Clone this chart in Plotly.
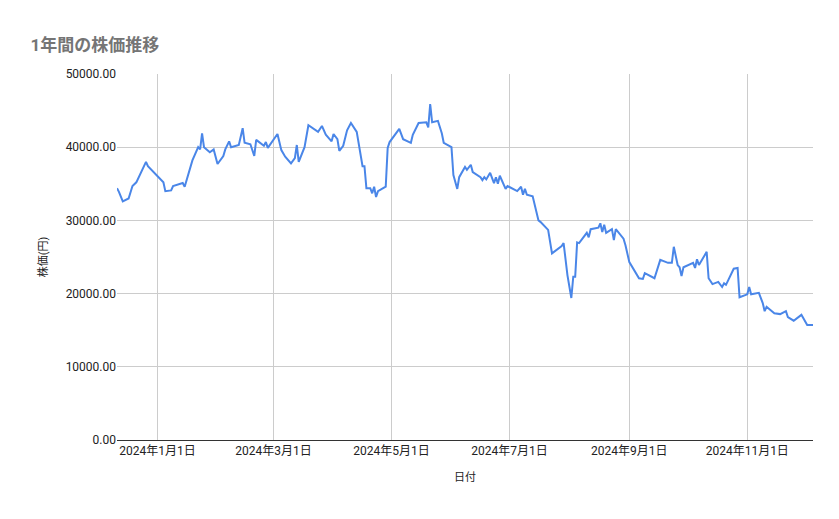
import pandas as pd
import plotly.graph_objects as go

# day offsets from 2024-01-01 and closing prices (thousand yen)
day_offsets = [-21, -20, -18, -15, -13, -11, -6, -5, 3, 4, 7, 8, 13, 14, 18, 21, 22, 23, 24, 27,
               29, 31, 34, 35, 37, 38, 42, 44, 45, 48, 50, 51, 55, 56, 57, 60, 62, 64, 66, 69,
               71, 72, 73, 76, 78, 83, 85, 87, 90, 91, 93, 94, 96, 98, 100, 103, 104, 106, 107, 108,
               110, 111, 112, 113, 114, 118, 119, 120, 125, 127, 131, 132, 135, 139, 140, 141, 142, 145, 147, 148,
               152, 153, 155, 156, 159, 160, 162, 163, 167, 168, 169, 170, 172, 174, 175, 176, 177, 180, 181, 186,
               188, 189, 190, 191, 194, 197, 198, 202, 204, 209, 210, 212, 214, 215, 216, 217, 218, 222, 223, 224,
               228, 229, 230, 231, 232, 235, 236, 237, 241, 242, 244, 246, 249, 251, 252, 257, 260, 264, 266, 267,
               269, 270, 271, 272, 277, 278, 279, 280, 284, 285, 287, 290, 292, 293, 294, 298, 300, 301, 305, 306,
               307, 311, 313, 314, 315, 319, 322, 325, 326, 329, 333, 336, 339]
prices_k = [34.4, 33.9, 32.6, 33.0, 34.7, 35.2, 38.0, 37.4, 35.2, 34.0, 34.1, 34.7, 35.1, 34.6, 38.2, 40.0, 39.7, 41.9, 40.0, 39.3,
            39.7, 37.7, 38.8, 39.7, 40.8, 40.0, 40.3, 42.6, 40.6, 40.4, 38.8, 41.0, 40.2, 40.7, 39.9, 41.1, 41.8, 39.6, 38.7, 37.8,
            38.5, 40.3, 38.0, 40.0, 43.0, 42.1, 42.9, 41.7, 40.8, 41.8, 41.1, 39.5, 40.2, 42.3, 43.3, 42.1, 40.6, 37.4, 37.4, 34.4,
            34.4, 33.7, 34.6, 33.2, 34.0, 34.6, 39.9, 40.7, 42.5, 41.1, 40.6, 41.7, 43.3, 43.4, 42.7, 45.9, 43.4, 43.6, 41.9, 40.6,
            40.0, 36.2, 34.3, 35.9, 37.3, 36.9, 37.6, 36.6, 35.9, 35.5, 35.9, 35.6, 36.5, 35.1, 35.9, 35.0, 36.1, 34.3, 34.7, 34.0,
            34.6, 33.5, 34.3, 33.5, 33.3, 30.0, 29.8, 28.7, 25.5, 26.5, 26.9, 22.5, 19.4, 22.3, 22.3, 27.0, 26.9, 28.3, 27.7, 28.8,
            29.0, 29.6, 28.4, 29.4, 28.3, 28.8, 27.3, 28.8, 27.5, 26.6, 24.3, 23.4, 22.1, 22.0, 22.8, 22.1, 24.6, 24.2, 24.2, 26.4,
            23.9, 23.6, 22.4, 23.6, 24.2, 23.5, 24.7, 23.9, 25.7, 22.1, 21.3, 21.6, 20.9, 21.4, 21.2, 23.4, 23.5, 19.5, 19.9, 20.9,
            19.9, 20.1, 18.7, 17.6, 18.2, 17.3, 17.2, 17.6, 16.8, 16.3, 17.1, 15.7, 15.7]

base = pd.Timestamp("2024-01-01")
dates = [base + pd.Timedelta(days=d) for d in day_offsets]
prices = [p * 1000 for p in prices_k]

tick_dates = ["2024-01-01", "2024-03-01", "2024-05-01", "2024-07-01", "2024-09-01", "2024-11-01"]
tick_text = ["2024年1月1日", "2024年3月1日", "2024年5月1日", "2024年7月1日", "2024年9月1日", "2024年11月1日"]

fig = go.Figure()
fig.add_trace(go.Scatter(x=dates, y=prices, mode="lines",
                         line=dict(color="#4a86e8", width=2), showlegend=False))

font = "Roboto, 'Noto Sans CJK JP', sans-serif"
fig.update_layout(
    width=831, height=511,
    paper_bgcolor="white", plot_bgcolor="white",
    margin=dict(l=109, r=26, t=66, b=79),
    font=dict(family=font, size=12, color="#222222"),
    title=dict(text="<b>1年間の株価推移</b>", x=0.027, y=0.94, xanchor="left",
               font=dict(size=17, color="#757575", family=font)),
    xaxis=dict(range=[base + pd.Timedelta(days=-21), base + pd.Timedelta(days=339)],
               tickvals=tick_dates, ticktext=tick_text, showgrid=True, gridcolor="#cccccc",
               showline=True, linecolor="#333333", ticks="",
               title=dict(text="日付", font=dict(size=11)), zeroline=False),
    yaxis=dict(range=[0, 50000], dtick=10000, tickformat=".2f", gridcolor="#cccccc",
               showline=False, zeroline=False,
               title=dict(text="株価(円)", font=dict(size=11))),
)

fig.write_html("out.html")
